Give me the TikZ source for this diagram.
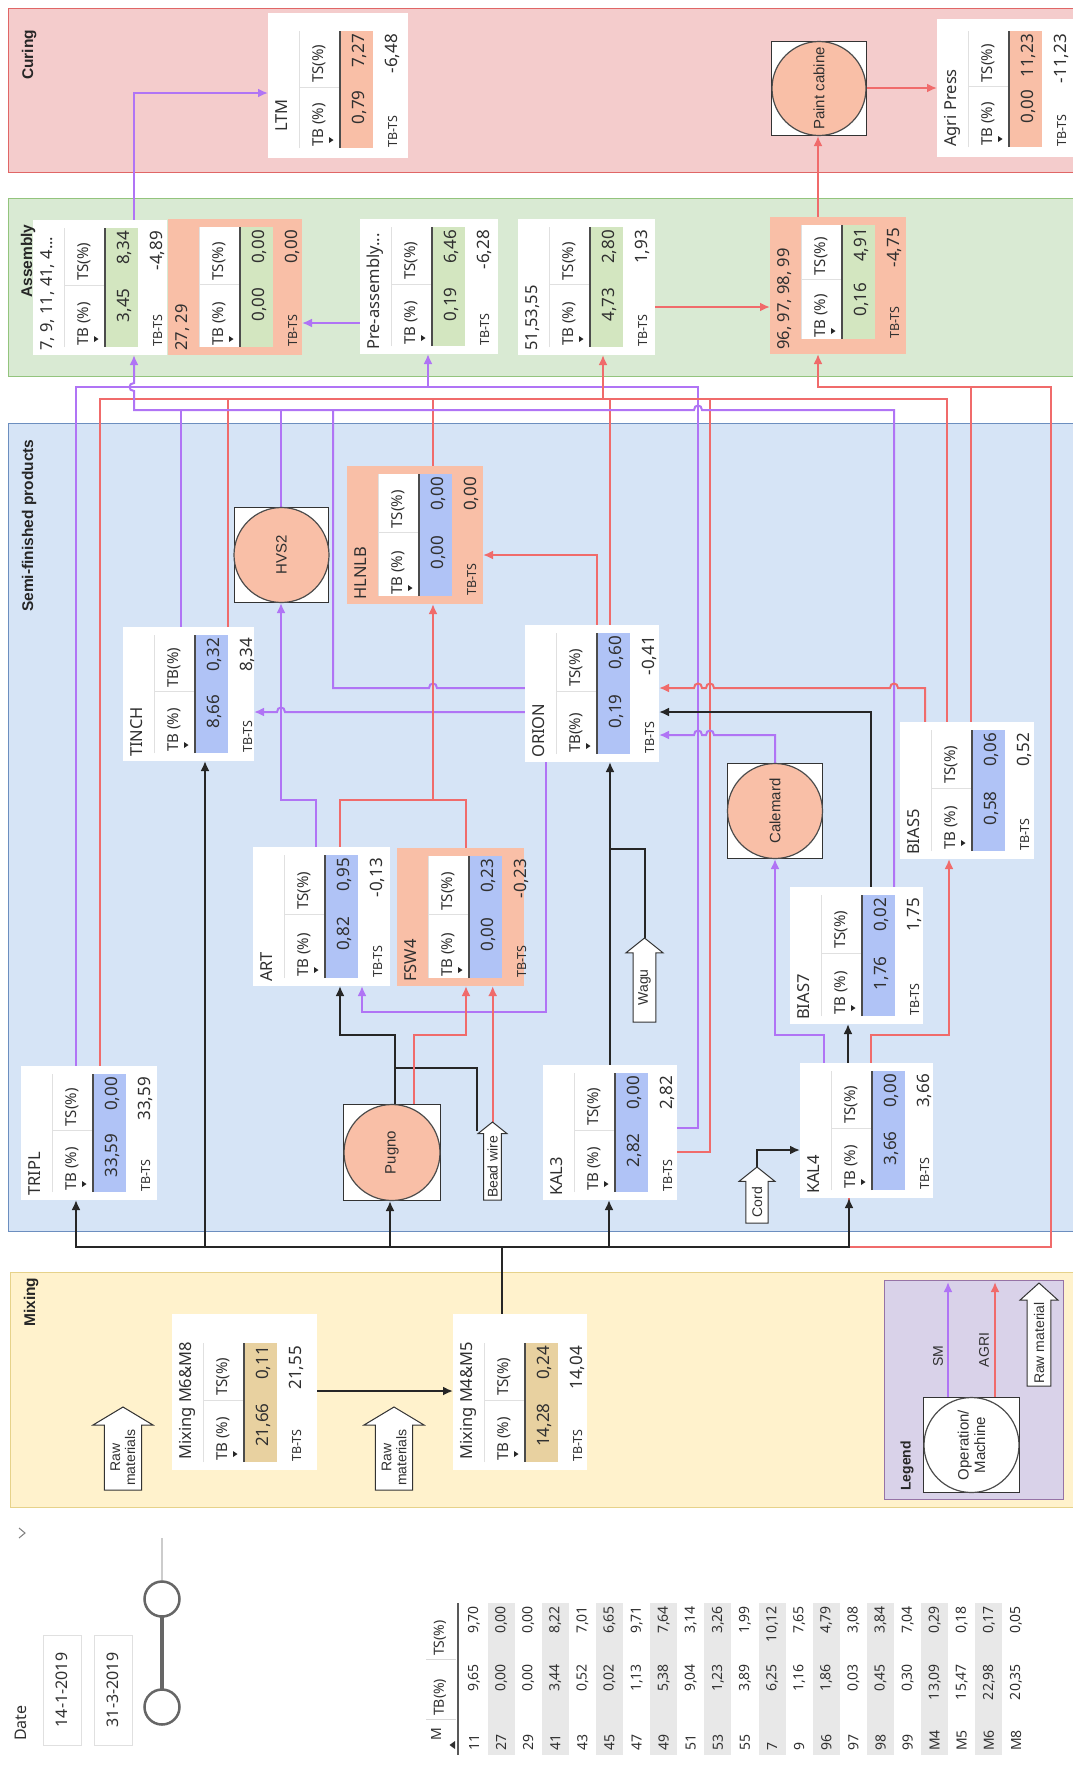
\documentclass[tikz,border=0pt]{standalone}
\usepackage{fontspec}
\setmainfont{Noto Sans}
\newfontfamily\arialf{Liberation Sans}
\usetikzlibrary{arrows.meta}

\definecolor{curbg}{HTML}{F4CCCC}
\definecolor{curln}{HTML}{E06666}
\definecolor{asmbg}{HTML}{D9EAD3}
\definecolor{asmln}{HTML}{93C47D}
\definecolor{semibg}{HTML}{D6E4F6}
\definecolor{semiln}{HTML}{6C8EBF}
\definecolor{mixbg}{HTML}{FFF2CC}
\definecolor{mixln}{HTML}{E6D28A}
\definecolor{legbg}{HTML}{D9D2E9}
\definecolor{legln}{HTML}{9673A6}
\definecolor{salmon}{HTML}{F9BFA7}
\definecolor{csalmon}{HTML}{F9BFA7}
\definecolor{cgreen}{HTML}{D3E6C0}
\definecolor{cblue}{HTML}{B0C3F6}
\definecolor{ctan}{HTML}{E8D1A0}
\definecolor{smc}{HTML}{B074F5}
\definecolor{agc}{HTML}{F06B6B}
\definecolor{txt}{HTML}{303030}
\definecolor{rowgray}{HTML}{E8E8E8}

\pgfdeclarelayer{zone}
\pgfdeclarelayer{wire}
\pgfsetlayers{zone,wire,main}

\tikzset{
  smw/.style={draw=smc, line width=2pt},
  agw/.style={draw=agc, line width=2pt},
  blw/.style={draw=black!85, line width=2.4pt},
  tip/.style={-{Latex[length=10pt,width=9pt]}},
  ct/.style={font=\fontsize{16.5}{18}\selectfont, text=txt, inner sep=0},
  ch/.style={font=\fontsize{15}{17}\selectfont, text=txt, inner sep=0},
  cv/.style={font=\fontsize{17}{19}\selectfont, text=txt, inner sep=0},
  cd/.style={font=\fontsize{12.5}{14}\selectfont, text=txt, inner sep=0},
  cx/.style={font=\fontsize{17}{19}\selectfont, text=txt, inner sep=0},
  lab/.style={font=\arialf\fontsize{15}{16.5}\selectfont, text=txt, align=center, inner sep=0, rotate=90},
  arrlab/.style={font=\arialf\fontsize{14}{15}\selectfont, text=txt, align=center, inner sep=0, rotate=90},
  zonelab/.style={font=\arialf\bfseries\fontsize{15.5}{18}\selectfont, text=black!85, inner sep=0, rotate=90, anchor=base west},
  tbl/.style={font=\fontsize{14}{16}\selectfont, text=txt, inner sep=0, rotate=90},
}

% card options
\pgfkeys{/card/.is family,/card,
  bg/.store in=\cardbg, cell/.store in=\cardcell,
  ha/.store in=\cardha, hb/.store in=\cardhb,
  tu/.store in=\cardtu, ts/.store in=\cardts, te/.store in=\cardte}
\def\getbox#1,#2,#3,#4\relax{\def\bxa{#1}\def\bya{#2}\def\bxb{#3}\def\byb{#4}}

% KPI card: [options]{name}{x0,y0,x1,y1}{title}{TB}{TS}{TB-TS}
\newcommand\card[7][]{%
  \pgfkeys{/card,bg=white,cell=cblue,ha={TB (\%)},hb={TS(\%)},tu=4,ts=8,te=0,#1}%
  \getbox#3\relax
  \pgfmathsetmacro\cw{\bxb-\bxa}%
  \pgfmathsetmacro\ch{\byb-\bya}%
  \pgfmathsetmacro\ue{\cardte>0 ? \cardte : \ch-8}%
  \pgfmathsetmacro\us{\cardts}%
  \pgfmathsetmacro\um{\us+0.52*(\ue-\us)}%
  \node[fill=\cardbg, inner sep=0, outer sep=0, minimum width=\cw pt, minimum height=\ch pt, anchor=north west] (#2) at (\bxa,\bya) {};
  \begin{scope}[shift={(\bxa,\byb)}, rotate=90, transform shape]
    \fill[white] (\us,31) rectangle (\ue,72);
    \draw[black!12, line width=0.8pt] (\us,31) -- (\ue,31);
    \draw[black!12, line width=0.8pt] (\um,31) -- (\um,72);
    \fill[\cardcell] (\us,72) rectangle (\ue,105);
    \draw[black!70, line width=1.5pt] (\us,72) -- (\ue,72);
    \fill[black!85] (\us+5,61) -- (\us+11,61) -- (\us+8,65.5) -- cycle;
    \node[ct, anchor=base west] (#2-name) at (\cardtu,19) {#4};
    \node[ch, anchor=base west] (#2-ha) at (\us+1,55) {\cardha};
    \node[ch, anchor=base west] (#2-hb) at (\um+4,55) {\cardhb};
    \node[cv, anchor=base east] (#2-tb) at (\um-3,96) {#5};
    \node[cv, anchor=base east] (#2-ts) at (\ue-3,96) {#6};
    \node[cd, anchor=base west] (#2-dl) at (\us,129) {TB-TS};
    \node[cx, anchor=base east] (#2-dv) at (\ue-3,129) {#7};
  \end{scope}}

% machine: square frame with a circle
\newcommand\machine[4][salmon]{%
  \getbox#3\relax
  \pgfmathsetmacro\cw{\bxb-\bxa}\pgfmathsetmacro\ch{\byb-\bya}%
  \node[draw=black!80, line width=1pt, fill=white, inner sep=0, minimum width=\cw pt, minimum height=\ch pt, anchor=north west] (#2) at (\bxa,\bya) {};
  \node[circle, draw=black!70, line width=1.2pt, fill=#1, inner sep=0, minimum size=\ch pt, lab] (#2-c) at (#2.center) {#4};}

% block arrow for incoming material
\newcommand\blockarr[4][0.4]{%
  \getbox#3\relax
  \pgfmathsetmacro\bw{\bxb-\bxa}\pgfmathsetmacro\bh{\byb-\bya}%
  \pgfmathsetmacro\ins{0.19*\bw}\pgfmathsetmacro\hy{\bya+#1*\bw}%
  \pgfmathsetmacro\xm{(\bxa+\bxb)/2}\pgfmathsetmacro\ym{(\hy+\byb)/2}%
  \pgfmathsetmacro\xl{\bxa+\ins}\pgfmathsetmacro\xr{\bxb-\ins}%
  \node[inner sep=0, minimum width=\bw pt, minimum height=\bh pt, anchor=north west] (#2) at (\bxa,\bya) {};
  \draw[draw=black!80, fill=white, line width=1pt] (\xl,\byb) -- (\xl,\hy) -- (\bxa,\hy) -- (\xm,\bya) -- (\bxb,\hy) -- (\xr,\hy) -- (\xr,\byb) -- cycle;
  \node[arrlab] (#2-t) at (\xm,\ym) {#4};}

\begin{document}
\begin{tikzpicture}[x=1pt,y=-1pt]
\useasboundingbox (0,0) rectangle (1073,1765);

\begin{pgfonlayer}{zone}
  \fill[white] (0,0) rectangle (1073,1765);
  \draw[fill=curbg, draw=curln, line width=1pt] (8,8) rectangle (1090,172);
  \draw[fill=asmbg, draw=asmln, line width=1pt] (8,198) rectangle (1090,376);
  \draw[fill=semibg, draw=semiln, line width=1pt] (8,423) rectangle (1090,1231);
  \draw[fill=mixbg, draw=mixln, line width=1pt] (10,1272) rectangle (1090,1507);
  \draw[fill=legbg, draw=legln, line width=1pt] (884,1280) rectangle (1063,1499);
\end{pgfonlayer}

% curing
\card[cell=csalmon,tu=26,ts=10,te=127]{ltm}{268,13,408,158}{LTM}{0,79}{7,27}{-6,48}
\machine{paint}{771,41,866,135}{Paint cabine}
\card[cell=csalmon,tu=10,ts=10,te=126]{agri}{937,19,1080,157}{Agri Press}{0,00}{11,23}{-11,23}

% assembly
\card[cell=cgreen]{c79}{33,220,167,355}{7, 9, 11, 41, 4...}{3,45}{8,34}{-4,89}
\card[bg=salmon,cell=cgreen]{c2729}{168,219,302,355}{27, 29}{0,00}{0,00}{0,00}
\card[cell=cgreen]{pre}{360,219,498,354}{Pre-assembly...}{0,19}{6,46}{-6,28}
\card[cell=cgreen]{c51}{518,219,655,355}{51,53,55}{4,73}{2,80}{1,93}
\card[bg=salmon,cell=cgreen,ts=15]{c96}{770,217,906,354}{96, 97, 98, 99}{0,16}{4,91}{-4,75}

% semi-finished products
\machine{hvs2}{234,507,328,602}{HVS2}
\card[bg=salmon]{hlnlb}{347,466,483,604}{HLNLB}{0,00}{0,00}{0,00}
\card[hb={TB(\%)}]{tinch}{123,627,254,761}{TINCH}{8,66}{0,32}{8,34}
\card[ha={TB(\%)}]{orion}{525,625,659,762}{ORION}{0,19}{0,60}{-0,41}
\machine{calem}{727,763,822,858}{Calemard}
\card{bias5}{900,722,1034,859}{BIAS5}{0,58}{0,06}{0,52}
\card{art}{253,847,390,986}{ART}{0,82}{0,95}{-0,13}
\card[bg=salmon]{fsw4}{397,848,524,986}{FSW4}{0,00}{0,23}{-0,23}
\card{bias7}{790,887,923,1024}{BIAS7}{1,76}{0,02}{1,75}
\blockarr{wagu}{626,938,663,1022}{Wagu}
\card{tripl}{21,1066,157,1200}{TRIPL}{33,59}{0,00}{33,59}
\machine{pugno}{343,1104,440,1200}{Pugno}
\blockarr{bead}{478,1122,507,1200}{Bead wire}
\card{kal3}{543,1065,677,1200}{KAL3}{2,82}{0,00}{2,82}
\blockarr{cord}{739,1167,775,1223}{Cord}
\card{kal4}{800,1063,933,1198}{KAL4}{3,66}{0,00}{3,66}

% mixing
\blockarr[0.3]{raw1}{93,1407,153,1490}{Raw\\materials}
\card[cell=ctan,tu=10,te=127]{m68}{172,1314,317,1470}{Mixing M6\&M8}{21,66}{0,11}{21,55}
\blockarr[0.3]{raw2}{364,1407,424,1490}{Raw\\materials}
\card[cell=ctan,tu=10,te=127]{m45}{453,1314,587,1470}{Mixing M4\&M5}{14,28}{0,24}{14,04}

% legend
\machine[white]{legm}{923,1397,1019,1492}{Operation/\\Machine}
\blockarr[0.45]{legraw}{1020,1283,1058,1386}{Raw material}
\node[font=\arialf\bfseries\fontsize{14}{16}\selectfont, text=black!85, rotate=90, anchor=west, inner sep=0] (legtitle) at (907,1491) {Legend};
\node[arrlab] (legsm) at (938,1356) {SM};
\node[arrlab] (legag) at (984,1350) {AGRI};
\coordinate (smend) at (948,1282);
\coordinate (agend) at (995,1282);

% zone titles (on top of the cards they touch)
\node[zonelab] (lcur) at (33,80) {Curing};
\node[zonelab] (lasm) at (32,298) {Assembly};
\node[zonelab] (lsemi) at (33,612) {Semi-finished products};
\node[zonelab] (lmix) at (35,1327) {Mixing};

\begin{pgfonlayer}{wire}
  % assembly and curing flows
  \draw[smw,tip] (c79.north -| 134,0) -- (134,93) -- (ltm.west |- 0,93);
  \draw[smw,tip] (pre.west |- 0,323) -- (c2729.east |- 0,323);
  \draw[agw,tip] (c51.east |- 0,307) -- (c96.west |- 0,307);
  \draw[agw,tip] (c96.north -| 818,0) -- (paint.south -| 818,0);
  \draw[agw,tip] (paint.east |- 0,88) -- (agri.west |- 0,88);

  % SM collector into pre-assembly
  \draw[smw,tip] (tripl.north -| 76,0) -- (76,387) -- (428,387) -- (pre.south -| 428,0);
  \draw[smw] (kal3.east |- 0,1128) -- (698,1128) -- (698,387) -- (428,387);

  % AGRI collector into 96, 97, 98, 99
  \draw[agw,tip] (kal4.south -| 849,0) -- (849,1247) -- (1051,1247) -- (1051,387) -- (818,387) -- (c96.south -| 818,0);
  \draw[agw] (bias5.north -| 971,0) -- (971,387);

  % AGRI collector into 51,53,55
  \draw[agw,tip] (tripl.north -| 100,0) -- (100,399) -- (603,399) -- (c51.south -| 603,0);
  \draw[agw] (bias5.north -| 947,0) -- (947,399) -- (603,399);
  \draw[agw] (tinch.north -| 228,0) -- (228,399);
  \draw[agw] (hlnlb.north -| 433,0) -- (433,399);
  \draw[agw] (orion.north -| 610,0) -- (610,399);
  \draw[agw] (kal3.east |- 0,1152) -- (710,1152) -- (710,399);

  % SM collector into 7, 9, 11, ...
  \draw[smw,tip] (bias7.north -| 894,0) -- (894,410) -- (702,410) .. controls (702,404) and (694,404) .. (694,410) -- (134,410) -- (134,391) .. controls (128,391) and (128,383) .. (134,383) -- (c79.south -| 134,0);
  \draw[smw] (tinch.north -| 181,0) -- (181,410);
  \draw[smw] (hvs2.north -| 281,0) -- (281,410);
  \draw[smw] (orion.west |- 0,688) -- (437,688) .. controls (437,682) and (429,682) .. (429,688) -- (333,688) -- (333,410);

  % around ORION
  \draw[agw,tip] (orion.north -| 597,0) -- (597,555) -- (hlnlb.east |- 0,555);
  \draw[agw,tip] (bias5.north -| 925,0) -- (925,688) -- (898,688) .. controls (898,682) and (890,682) .. (890,688) -- (714,688) .. controls (714,682) and (706,682) .. (706,688) -- (702,688) .. controls (702,682) and (694,682) .. (694,688) -- (orion.east |- 0,688);
  \draw[blw,tip] (bias7.north -| 871,0) -- (871,712) -- (orion.east |- 0,712);
  \draw[smw,tip] (calem.north -| 775,0) -- (775,735) -- (714,735) .. controls (714,729) and (706,729) .. (706,735) -- (702,735) .. controls (702,729) and (694,729) .. (694,735) -- (orion.east |- 0,735);
  \draw[blw,tip] (kal3.north -| 610,0) -- (orion.south -| 610,0);
  \draw[blw] (wagu.north) -- (wagu.north |- 0,849) -- (610,849);
  \draw[smw,tip] (orion.west |- 0,712) -- (285,712) .. controls (285,706) and (277,706) .. (277,712) -- (tinch.east |- 0,712);
  \draw[smw,tip] (orion.south -| 546,0) -- (546,1012) -- (362,1012) -- (art.south -| 362,0);

  % ART, FSW4, Pugno, Bead wire
  \draw[smw,tip] (art.north -| 316,0) -- (316,800) -- (281,800) -- (hvs2.south -| 281,0);
  \draw[agw,tip] (art.north -| 340,0) -- (340,800) -- (433,800) -- (hlnlb.south -| 433,0);
  \draw[agw] (fsw4.north -| 466,0) -- (466,800) -- (433,800);
  \draw[blw,tip] (pugno.north -| 395,0) -- (395,1035) -- (340,1035) -- (art.south -| 340,0);
  \draw[blw] ([xshift=-1pt,yshift=-9pt]bead.north west) -- (477,1068) -- (395,1068);
  \draw[agw,tip] (pugno.north -| 414,0) -- (414,1035) -- (466,1035) -- (fsw4.south -| 466,0);
  \draw[agw,tip] (bead.north) -- (fsw4.south -| bead.north);

  % KAL4 area
  \draw[blw,tip] (cord.north) -- (cord.north |- 0,1150) -- (kal4.west |- 0,1150);
  \draw[blw,tip] (kal4.north -| 848,0) -- (bias7.south -| 848,0);
  \draw[smw,tip] (kal4.north -| 824,0) -- (824,1035) -- (775,1035) -- (calem.south -| 775,0);
  \draw[agw,tip] (kal4.north -| 871,0) -- (871,1035) -- (949,1035) -- (bias5.south -| 949,0);

  % compound distribution from mixing
  \draw[blw,tip] (m68.east |- 0,1391) -- (m45.west |- 0,1391);
  \draw[blw,tip] (m45.north -| 502,0) -- (502,1247) -- (76,1247) -- (tripl.south -| 76,0);
  \draw[blw,tip] (m45.north -| 502,0) -- (502,1247) -- (205,1247) -- (tinch.south -| 205,0);
  \draw[blw,tip] (m45.north -| 502,0) -- (502,1247) -- (390,1247) -- (pugno.south -| 390,0);
  \draw[blw,tip] (m45.north -| 502,0) -- (502,1247) -- (609,1247) -- (kal3.south -| 609,0);
  \draw[blw,tip] (m45.north -| 502,0) -- (502,1247) -- (849,1247) -- (kal4.south -| 849,0);

  % legend arrows
  \draw[smw,tip] (legm.north -| 948,0) -- (smend);
  \draw[agw,tip] (legm.north -| 995,0) -- (agend);
\end{pgfonlayer}

% date filter
\draw[black!50, line width=1pt] (19,1528) -- (25,1533) -- (19,1538);
\node[font=\fontsize{16}{18}\selectfont, text=txt, rotate=90, anchor=west, inner sep=0] (datelab) at (21,1741) {Date};
\node[draw=black!12, line width=0.8pt, minimum width=38pt, minimum height=110pt, inner sep=0] (dfrom) at (62,1690) {};
\node[font=\fontsize{16}{18}\selectfont, text=txt, rotate=90, inner sep=0] (dfromt) at (dfrom.center) {14-1-2019};
\node[draw=black!12, line width=0.8pt, minimum width=38pt, minimum height=110pt, inner sep=0] (dto) at (113,1690) {};
\node[font=\fontsize{16}{18}\selectfont, text=txt, rotate=90, inner sep=0] (dtot) at (dto.center) {31-3-2019};
\draw[black!20, line width=2pt] (162,1538) -- (162,1582);
\draw[black!60, line width=3.5pt] (162,1615) -- (162,1690);
\node[circle, draw=black!60, line width=2.5pt, fill=white, minimum size=35pt, inner sep=0] (slA) at (162,1599) {};
\node[circle, draw=black!60, line width=2.5pt, fill=white, minimum size=35pt, inner sep=0] (slB) at (162,1707) {};

% summary table
\foreach \m/\tb/\ts [count=\i from 0] in {11/{9,65}/{9,70}, 27/{0,00}/{0,00}, 29/{0,00}/{0,00}, 41/{3,44}/{8,22}, 43/{0,52}/{7,01}, 45/{0,02}/{6,65}, 47/{1,13}/{9,71}, 49/{5,38}/{7,64}, 51/{9,04}/{3,14}, 53/{1,23}/{3,26}, 55/{3,89}/{1,99}, 7/{6,25}/{10,12}, 9/{1,16}/{7,65}, 96/{1,86}/{4,79}, 97/{0,03}/{3,08}, 98/{0,45}/{3,84}, 99/{0,30}/{7,04}, M4/{13,09}/{0,29}, M5/{15,47}/{0,18}, M6/{22,98}/{0,17}, M8/{20,35}/{0,05}}{
  \pgfmathsetmacro\rx{474+27.1*\i}
  \ifodd\i \fill[rowgray] (\rx-13.5,1603) rectangle (\rx+13.5,1755); \fi
  \node[tbl, anchor=west] (tm\i) at (\rx,1751) {\m};
  \node[tbl, anchor=east] (tb\i) at (\rx,1664) {\tb};
  \node[tbl, anchor=east] (ts\i) at (\rx,1606) {\ts};
}
\node[tbl, anchor=west] (hm) at (436,1741) {M};
\fill[txt] (455,1741) -- (455,1749) -- (449.5,1745) -- cycle;
\node[tbl, anchor=west] (htb) at (440,1716) {TB(\%)};
\node[tbl, anchor=west] (hts) at (440,1656) {TS(\%)};
\draw[black!15, line width=0.8pt] (426,1659) -- (456,1659);
\draw[black!15, line width=0.8pt] (426,1719) -- (456,1719);
\draw[black!65, line width=1.5pt] (458,1603) -- (458,1755);
\end{tikzpicture}
\end{document}
